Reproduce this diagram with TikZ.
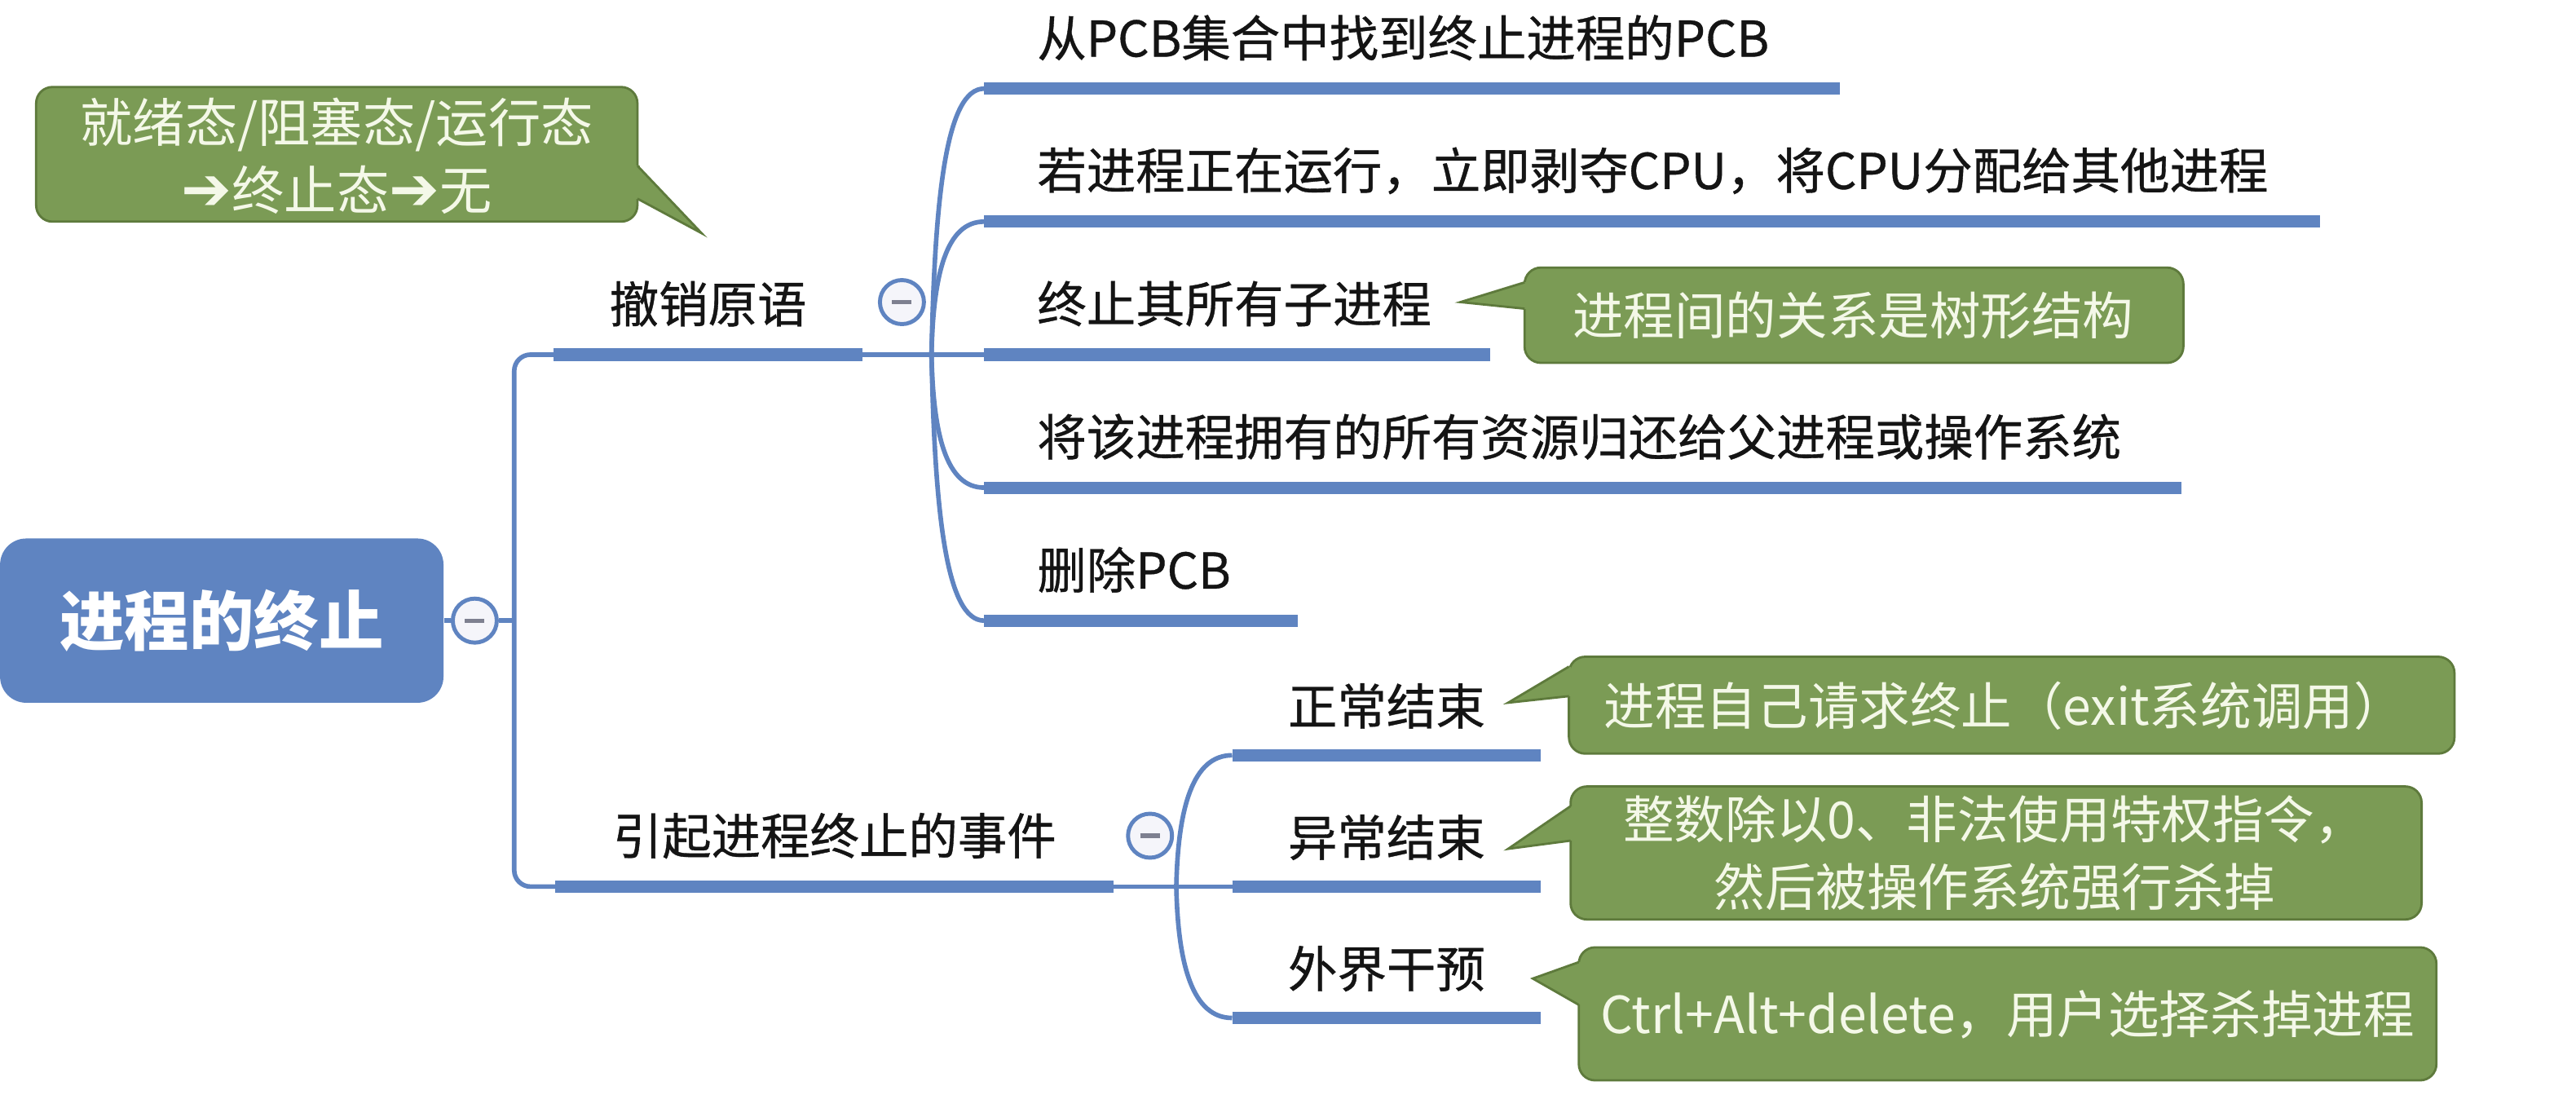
\documentclass[tikz,border=0pt]{standalone}
\usepackage{fontspec}
\setmainfont{Noto Sans CJK SC}
\newfontfamily\medfont[FakeBold=0.6]{Noto Sans CJK SC}
\newfontfamily\djv{DejaVu Sans}
\usetikzlibrary{calc}
\definecolor{mblue}{HTML}{5F84C1}
\definecolor{mgreen}{HTML}{7B9B55}
\definecolor{mgreenb}{HTML}{5E7A3C}
\definecolor{ctxt}{HTML}{F4F8E8}
\definecolor{minusgrey}{HTML}{7E8090}
\definecolor{collfill}{HTML}{F5F5FA}
\newcommand\gpointer[5]{%
  \fill[mgreen] (#1,#2) -- (#4,#5) -- (#1,#3) -- cycle;
  \draw[mgreen, line width=1.6pt] (#1,#2) -- (#1,#3);
  \draw[mgreenb, line width=0.8pt, line join=miter] (#1,#2) -- (#4,#5) -- (#1,#3);
}
\newcommand\harrow{{\djv\bfseries\fontsize{21}{23}\selectfont ➔}}
\begin{document}
\begin{tikzpicture}[x=0.020153cm,y=-0.020147cm,
  conn/.style={draw=mblue, line width=1.6pt},
  bar/.style={draw=mblue, line width=4.3pt},
  topic/.style={inner sep=0pt, text=black!92, font=\medfont\fontsize{17.2}{20}\selectfont},
  rootbox/.style={fill=mblue, rounded corners=0.32cm, minimum width=5.44cm, minimum height=2.015cm, inner sep=0pt, text=white, font=\fontsize{22.6}{26}\selectfont\bfseries},
  collapse/.style={circle, draw=mblue, line width=1.4pt, fill=collfill, minimum size=0.54cm, inner sep=0pt,
    path picture={\draw[minusgrey, line width=1.5pt] ([xshift=-0.12cm]path picture bounding box.center) -- ([xshift=0.12cm]path picture bounding box.center);}},
  callout/.style={fill=mgreen, draw=mgreenb, line width=0.8pt, rounded corners=0.2cm},
  ctext/.style={inner sep=0pt, text=ctxt, align=center, font=\fontsize{17.8}{23.5}\selectfont}
]
\fill[white] (0,0) rectangle (1568,680);
\useasboundingbox (0,0) rectangle (1568,680);

% ---- root ----
\node[rootbox] (root) at (135,378) {进程的终止};
\node[collapse] (rc) at (289,378) {};
\coordinate (trunk) at (313,378);
\draw[conn] (root.east) -- (rc.west);
\draw[conn] (rc.east) -- (trunk);

% ---- first level ----
\coordinate (b1s) at (337,216); \coordinate (b1e) at (525,216);
\coordinate (b2s) at (338,540); \coordinate (b2e) at (678,540);
\draw[conn, rounded corners=0.2cm] (b1s) -- (trunk |- b1s) -- (trunk |- b2s) -- (b2s);
\draw[bar] (b1s) -- (b1e);
\draw[bar] (b2s) -- (b2e);
\coordinate (f1) at (567,216);
\coordinate (f2) at (716,540);
\draw[conn] (b1e) -- (f1);
\draw[conn] (b2e) -- (f2);
\node[topic] (t1) at (431,185) {撤销原语};
\node[topic] (t2) at (508,509) {引起进程终止的事件};
\node[collapse] (k1) at (549,184) {};
\node[collapse] (k2) at (700,509) {};

% ---- children of 撤销原语 ----
\coordinate (s1) at (599,54);  \coordinate (e1) at (1120,54);
\coordinate (s2) at (599,135); \coordinate (e2) at (1412,135);
\coordinate (s3) at (599,216); \coordinate (e3) at (907,216);
\coordinate (s4) at (599,297); \coordinate (e4) at (1328,297);
\coordinate (s5) at (599,378); \coordinate (e5) at (790,378);
\draw[conn] (f1) .. controls (569,119) and (576,54) .. (s1);
\draw[conn] (f1) .. controls (568,167) and (576,135) .. (s2);
\draw[conn] (f1) -- (s3);
\draw[conn] (f1) .. controls (568,265) and (576,297) .. (s4);
\draw[conn] (f1) .. controls (569,313) and (576,378) .. (s5);
\draw[bar] (s1) -- (e1);
\draw[bar] (s2) -- (e2);
\draw[bar] (s3) -- (e3);
\draw[bar] (s4) -- (e4);
\draw[bar] (s5) -- (e5);
\node[topic, anchor=west] (n1) at (631,23) {从PCB集合中找到终止进程的PCB};
\node[topic, anchor=west] (n2) at (631,104) {若进程正在运行，立即剥夺CPU，将CPU分配给其他进程};
\node[topic, anchor=west] (n3) at (631,185) {终止其所有子进程};
\node[topic, anchor=west] (n4) at (631,266) {将该进程拥有的所有资源归还给父进程或操作系统};
\node[topic, anchor=west] (n5) at (631,347) {删除PCB};

% ---- children of 引起进程终止的事件 ----
\coordinate (u1) at (750,460); \coordinate (v1) at (938,460);
\coordinate (u2) at (750,540); \coordinate (v2) at (938,540);
\coordinate (u3) at (750,620); \coordinate (v3) at (938,620);
\draw[conn] (f2) .. controls (717,492) and (726,460) .. (u1);
\draw[conn] (f2) -- (u2);
\draw[conn] (f2) .. controls (717,588) and (726,620) .. (u3);
\draw[bar] (u1) -- (v1);
\draw[bar] (u2) -- (v2);
\draw[bar] (u3) -- (v3);
\node[topic] (m1) at (844,430) {正常结束};
\node[topic] (m2) at (844,510) {异常结束};
\node[topic] (m3) at (844,590) {外界干预};

% ---- callouts ----
\draw[callout] (22,53) rectangle (388,135);
\gpointer{388}{101}{121}{427}{142}
\node[ctext, font=\fontsize{18.3}{23.5}\selectfont] (ns) at (205,95) {就绪态/阻塞态/运行态\\\harrow 终止态\harrow 无};

\draw[callout] (928,163) rectangle (1329,221);
\gpointer{928}{172}{188}{889}{184}
\node[ctext] (na) at (1128,192) {进程间的关系是树形结构};

\draw[callout] (955,400) rectangle (1494,459);
\gpointer{955}{406}{424}{918}{428}
\node[ctext] (nb) at (1220,430) {进程自己请求终止（exit系统调用）};

\draw[callout] (956,479) rectangle (1474,560);
\gpointer{956}{491}{512}{918}{517}
\node[ctext] (nc) at (1214,519.5) {整数除以0、非法使用特权指令，\\然后被操作系统强行杀掉};

\draw[callout] (961,577) rectangle (1483,658);
\gpointer{961}{586}{612}{933}{596}
\node[ctext] (nd) at (1222,618) {Ctrl+Alt+delete，用户选择杀掉进程};
\end{tikzpicture}
\end{document}
